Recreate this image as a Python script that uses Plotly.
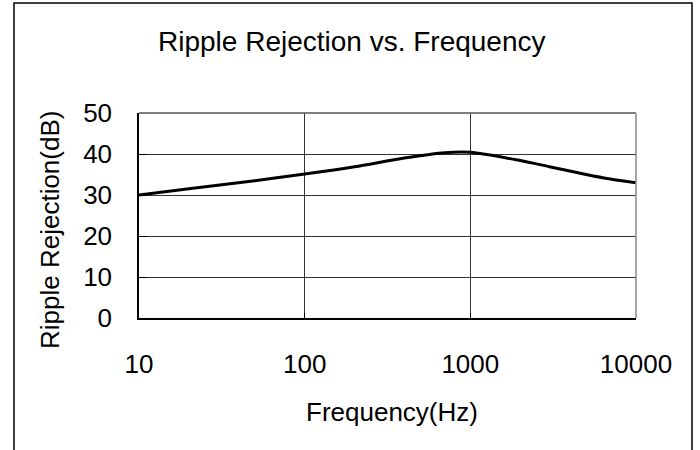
import plotly.graph_objects as go

freq = [10, 20, 50, 100, 200, 400, 700, 1000, 2000, 3000, 5000, 7000, 10000]
rr_db = [30.0, 31.5, 33.5, 35.1, 36.9, 39.0, 40.3, 40.4, 38.4, 36.9, 35.0, 33.9, 33.0]
x_ticks = [10, 100, 1000, 10000]
x_ticklabels = ["10", "100", "1000", "10000"]
y_ticks = [0, 10, 20, 30, 40, 50]

W, H = 700, 450
L, R, T, B = 139, 64, 113, 132
pw, ph = W - L - R, H - T - B

def px(x):
    return (x - L) / pw

def py(y):
    return (H - B - y) / ph

FONT = "Liberation Sans, Arial, sans-serif"

fig = go.Figure()
fig.add_trace(go.Scatter(x=freq, y=rr_db, mode="lines",
                         line=dict(color="black", width=3, shape="spline", smoothing=0.8),
                         showlegend=False, hoverinfo="skip"))

fig.update_layout(
    width=W, height=H,
    margin=dict(l=L, r=R, t=T, b=B),
    paper_bgcolor="white", plot_bgcolor="white",
    font=dict(family=FONT, size=26, color="black"),
    showlegend=False,
)
fig.update_xaxes(type="log", range=[1, 4], tickvals=x_ticks, ticktext=x_ticklabels,
                 showgrid=True, gridcolor="#333333", gridwidth=1,
                 showline=True, linecolor="black", linewidth=1.5,
                 ticks="inside", ticklen=5, tickcolor="black",
                 ticklabelstandoff=22, zeroline=False,
                 tickfont=dict(family=FONT, size=26, color="black"))
fig.update_yaxes(range=[0, 50], tickvals=y_ticks,
                 showgrid=True, gridcolor="#333333", gridwidth=1,
                 showline=True, linecolor="black", linewidth=1.5,
                 ticks="inside", ticklen=8, tickcolor="black",
                 ticklabelstandoff=20, zeroline=False,
                 tickfont=dict(family=FONT, size=26, color="black"))

# plot frame (top/right in gray)
fig.add_shape(type="line", xref="paper", yref="paper", x0=0, x1=1, y0=1, y1=1,
              line=dict(color="#555555", width=1.5), layer="above")
fig.add_shape(type="line", xref="paper", yref="paper", x0=1, x1=1, y0=0, y1=1,
              line=dict(color="#888888", width=1.5), layer="above")
# outer chart border
fig.add_shape(type="rect", xref="paper", yref="paper",
              x0=px(14), x1=px(692), y0=py(3), y1=py(470),
              line=dict(color="black", width=1.5), fillcolor="rgba(0,0,0,0)", layer="above")

fig.add_annotation(text="Ripple Rejection vs. Frequency", xref="paper", yref="paper",
                   x=px(352), y=py(42), showarrow=False, xanchor="center", yanchor="middle",
                   font=dict(family=FONT, size=28, color="black"))
fig.add_annotation(text="Frequency(Hz)", xref="paper", yref="paper",
                   x=px(392), y=py(412), showarrow=False, xanchor="center", yanchor="middle",
                   font=dict(family=FONT, size=26, color="black"))
fig.add_annotation(text="Ripple Rejection(dB)", xref="paper", yref="paper",
                   x=px(50), y=py(230), showarrow=False, textangle=-90,
                   xanchor="center", yanchor="middle",
                   font=dict(family=FONT, size=26, color="black"))

fig.write_html("out.html")
